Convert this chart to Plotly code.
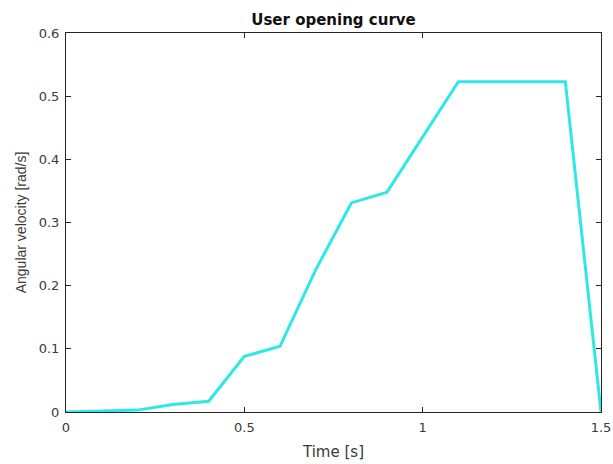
import plotly.graph_objects as go

time_s = [0, 0.1, 0.2, 0.3, 0.4, 0.5, 0.6, 0.7, 0.8, 0.9, 1.0, 1.1, 1.2, 1.3, 1.4, 1.5]
ang_vel = [0, 0.001, 0.003, 0.012, 0.017, 0.088, 0.104, 0.225, 0.331, 0.348, 0.435, 0.523, 0.523, 0.523, 0.523, 0]

x_ticks = [0, 0.5, 1, 1.5]
x_tick_labels = ["0", "0.5", "1", "1.5"]
y_ticks = [0, 0.1, 0.2, 0.3, 0.4, 0.5, 0.6]
y_tick_labels = ["0", "0.1", "0.2", "0.3", "0.4", "0.5", "0.6"]

WIDE = "DejaVu Sans, Verdana, sans-serif"
FONT = "Arial, Liberation Sans, sans-serif"

axis_common = dict(showgrid=False, zeroline=False, showline=True, linecolor="#262626",
                   linewidth=1, mirror="ticks", ticks="inside", ticklen=5, tickcolor="#262626",
                   automargin=False,
                   tickfont=dict(family=WIDE, size=13, color="#3a3a3a"))

fig = go.Figure()
fig.add_trace(go.Scatter(x=time_s, y=ang_vel, mode="lines",
                         line=dict(color="#2EE8E8", width=3), showlegend=False))

fig.update_xaxes(range=[0, 1.5], tickvals=x_ticks, ticktext=x_tick_labels,
                 ticklabelstandoff=3,
                 title=dict(text="Time [s]", font=dict(family=WIDE, size=15, color="#3a3a3a"), standoff=12),
                 **axis_common)
fig.update_yaxes(range=[0, 0.6], tickvals=y_ticks, ticktext=y_tick_labels,
                 ticklabelstandoff=3,
                 title=dict(text="Angular velocity [rad/s]", font=dict(family=FONT, size=14, color="#3a3a3a"), standoff=8),
                 **axis_common)

fig.update_layout(
    width=613, height=464,
    margin=dict(l=66, r=12, t=33, b=52),
    paper_bgcolor="white", plot_bgcolor="white",
    title=dict(text="<b>User opening curve</b>", x=(66 + 601) / 2 / 613, xanchor="center",
               y=1 - 20 / 464, yanchor="middle",
               font=dict(family=WIDE, size=15, color="#111111")),
)

fig.write_html("out.html")
